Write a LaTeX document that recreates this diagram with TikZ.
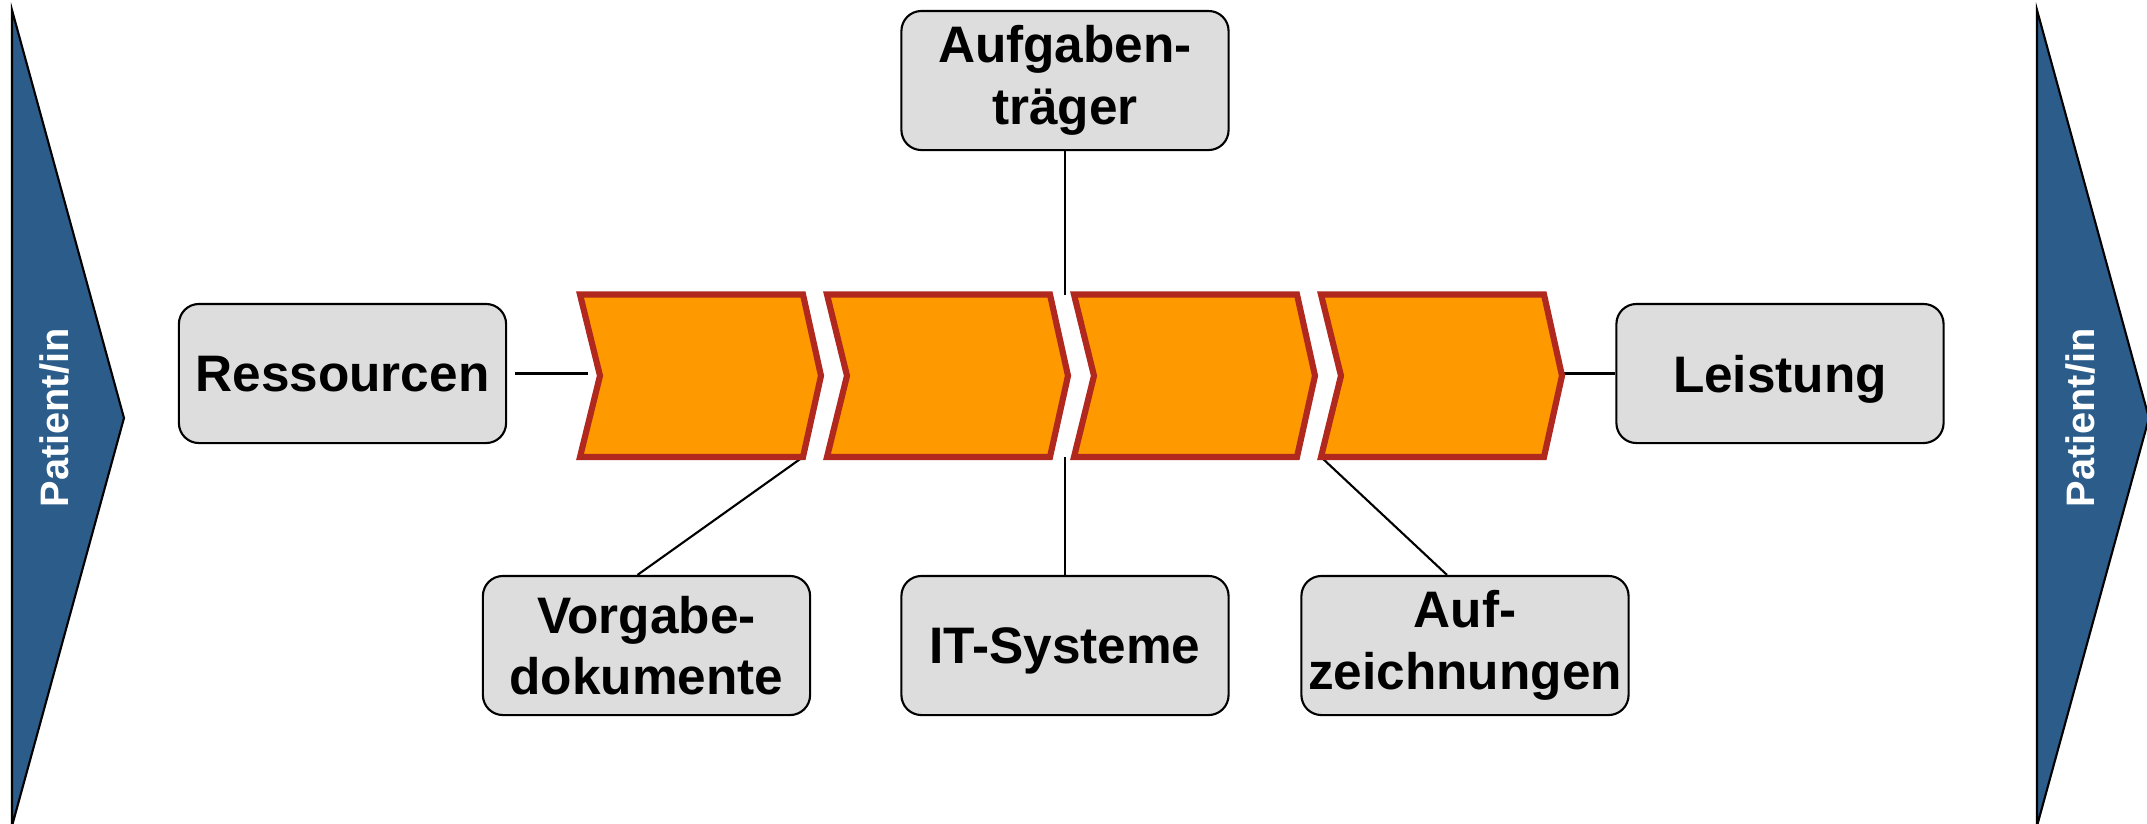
\documentclass[tikz,border=0pt]{standalone}
\usepackage{fontspec}
\setmainfont{Liberation Sans}
\usepackage{tikz}
\usetikzlibrary{positioning,calc,backgrounds}
\definecolor{PatientBlue}{RGB}{43,92,138}
\definecolor{PhaseOrange}{RGB}{255,153,0}
\definecolor{PhaseRed}{RGB}{176,40,30}
\definecolor{BoxGray}{RGB}{221,221,221}

\tikzset{
  infobox/.style={draw=black, line width=0.6pt, fill=BoxGray, rounded corners=0.2cm,
    minimum width=3.27cm, minimum height=1.39cm, inner sep=0pt, align=center,
    font=\bfseries\fontsize{14.6}{17.5}\selectfont},
  oneline/.style={text depth=0pt},
  link/.style={draw=black, line width=0.6pt},
  phase/.style={fill=PhaseOrange, draw=PhaseRed, line width=1.75pt, line join=miter},
  patient/.style={fill=PatientBlue, draw=black, line width=0.6pt},
  patientlabel/.style={rotate=90, text=white, font=\bfseries\fontsize{11.3}{13}\selectfont}
}

\begin{document}
\begin{tikzpicture}[x=0.01cm, y=-0.01cm]
      \useasboundingbox (0,0) rectangle (2147,823);
      \clip (0,0) rectangle (2147,823);
      % patient in / out
      \draw[patient] (12,10) -- (124,418) -- (12,826) -- cycle;
      \node[patientlabel] (pin) at (54,418) {Patient/in};
      \draw[patient] (2037,10) -- (2149,418) -- (2037,826) -- cycle;
      \node[patientlabel] (pout) at (2080,418) {Patient/in};
      % process steps
      \foreach \i in {1,...,4} {
        \pgfmathsetmacro{\L}{577+247*(\i-1)}
        \draw[phase] (\L+3,294.5) -- (\L+226,294.5) -- (\L+244,375.75) -- (\L+226,457)
          -- (\L+3,457) -- (\L+23,375.75) -- cycle;
        \coordinate (ph\i-in) at (\L+23,375.75);
        \coordinate (ph\i-tip) at (\L+244,375.75);
        \coordinate (ph\i-nw) at (\L+3,294.5);
        \coordinate (ph\i-sw) at (\L+3,457);
        \coordinate (ph\i-se) at (\L+226,457);
      }
      % surrounding elements
      \node[infobox, oneline] (res) at (342.5,373.5) {Ressourcen};
      \node[infobox, oneline] (lei) at (1780,373.5) {Leistung};
      \node[infobox] (auf) at (1065,80.5) {Aufgaben-\\träger};
      \node[infobox] (vor) at (646.5,645.5) {Vorgabe-\\dokumente};
      \node[infobox, oneline] (its) at (1065,645.5) {IT-Systeme};
      \node[infobox] (azg) at (1465,645.5) {Auf-\\zeichnungen};
      \coordinate (gaptop) at (auf.south |- ph3-nw);
      \coordinate (gapbot) at (its.north |- ph3-sw);
      \coordinate (resend) at ([xshift=-0.12cm]res.east -| ph1-in);
      \coordinate (leiend) at (lei.west -| ph4-tip);
      \begin{scope}[on background layer]
        \draw[link] ([xshift=0.08cm]res.east) -- (resend);
        \draw[link] (leiend) -- (lei.west);
        \draw[link] (auf.south) -- (gaptop);
        \draw[link] (its.north) -- (gapbot);
        \draw[link] ([xshift=-0.09cm]vor.north) -- (ph1-se);
        \draw[link] ([xshift=-0.18cm]azg.north) -- (ph4-sw);
      \end{scope}
    \end{tikzpicture}
\end{document}
